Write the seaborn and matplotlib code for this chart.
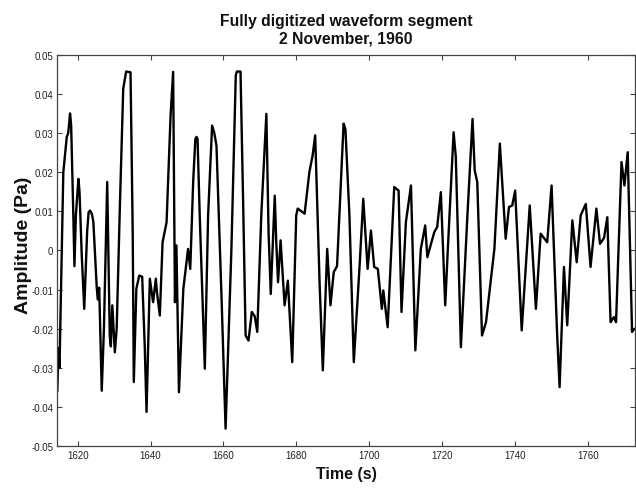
import matplotlib
matplotlib.use("Agg")
import matplotlib.pyplot as plt
import seaborn as sns
import pandas as pd

# --- data ---
time_s = [1614.4, 1614.7, 1615.0, 1616.05, 1617.0, 1617.4, 1617.9, 1618.2, 1618.8, 1619.1,
          1619.5, 1620.2, 1620.5, 1621.1, 1621.8, 1622.6, 1623.0, 1623.4, 1623.9, 1624.3,
          1625.2, 1625.5,
          1625.9, 1626.6, 1627.2, 1628.1, 1628.8, 1629.1, 1629.5, 1630.2, 1630.7, 1631.6,
          1632.5, 1633.3, 1634.5, 1635.1, 1635.4, 1636.1, 1636.9, 1637.7, 1638.4, 1638.9,
          1639.8, 1640.7, 1641.45, 1641.8, 1642.55, 1643.3, 1644.4, 1645.5, 1646.2, 1646.7,
          1647.1, 1647.8, 1649.0, 1650.3, 1650.9, 1651.7, 1652.3, 1652.6, 1652.9, 1653.5,
          1654.9, 1655.8,
          1656.9, 1657.5, 1658.1, 1659.5, 1660.6, 1662.2, 1663.4, 1663.7, 1664.7, 1665.4,
          1666.1,
          1666.9, 1667.8, 1668.6, 1669.3, 1670.4, 1671.8, 1672.4, 1673.0, 1674.1, 1674.5,
          1675.0, 1675.7, 1676.8, 1677.7, 1678.9, 1680.0, 1680.4, 1682.3, 1683.6, 1684.5,
          1685.2, 1686.4, 1687.3, 1688.5, 1689.4, 1690.3, 1691.2, 1693.0, 1693.5, 1694.6,
          1695.8, 1697.4, 1698.4, 1699.6, 1700.5, 1701.4, 1702.4, 1703.5, 1703.9, 1705.1,
          1706.9, 1708.1, 1708.9, 1710.1, 1711.5, 1712.7, 1714.2, 1715.4, 1716.0, 1717.9,
          1718.7, 1719.7, 1720.9, 1721.6, 1723.2, 1723.8, 1724.3, 1725.2, 1727.0, 1728.4,
          1729.0, 1729.7, 1731.0, 1732.1, 1734.4, 1735.9, 1737.1, 1737.5, 1738.4, 1739.3,
          1740.1, 1741.9, 1744.1, 1745.8, 1747.1, 1748.9, 1750.1, 1751.6, 1752.3, 1753.5,
          1754.4, 1755.8, 1757.0, 1758.1, 1759.5, 1760.8, 1762.4, 1763.4, 1764.5, 1765.4,
          1766.3, 1767.2, 1767.8, 1769.3, 1770.1, 1771.0, 1772.2, 1772.8]

amplitude_pa = [-0.036, -0.025, -0.030, 0.020, 0.029, 0.030, 0.035, 0.032, 0.009, -0.004,
                0.009, 0.0183, 0.015, -0.001, -0.0149, 0.005, 0.0098, 0.0102, 0.0093, 0.0073,
                -0.009, -0.0125,
                -0.0095, -0.0358, -0.020, 0.0175, -0.0217, -0.0245, -0.014, -0.026, -0.020, 0.012,
                0.0413, 0.0457, 0.0455, 0.005, -0.0336, -0.0098, -0.0064, -0.0067, -0.0243, -0.0412,
                -0.0072, -0.0132, -0.0072, -0.011, -0.0166, 0.0021, 0.0072, 0.0345, 0.0456, -0.0132,
                0.0013, -0.0362, -0.0098, 0.0004, -0.0047, 0.0175, 0.0285, 0.029, 0.0285, 0.009,
                -0.0302, 0.009,
                0.0319, 0.030, 0.0268, -0.0123, -0.0455, 0.0004, 0.0447, 0.0457, 0.0457, 0.0132,
                -0.0217,
                -0.023, -0.0157, -0.0168, -0.0208, 0.009, 0.0349, 0.0047, -0.0111, 0.014, 0.0025,
                -0.0081, 0.0026, -0.014, -0.0077, -0.0285, 0.009, 0.0107, 0.0094, 0.020, 0.0243,
                0.0294, -0.008, -0.0306, 0.0004, -0.014, -0.0055, -0.004, 0.0324, 0.031, 0.009,
                -0.0285, -0.0038, 0.0132, -0.0047, 0.0051, -0.0042, -0.0047, -0.0149, -0.0102, -0.0196,
                0.0162, 0.0153, -0.0157, 0.0072, 0.0166, -0.0255, 0.0004, 0.0064, -0.0017, 0.0047,
                0.006, 0.0149, -0.014, 0.000, 0.0302, 0.024, 0.007, -0.0247, 0.009, 0.0336,
                0.0204, 0.0175, -0.0217, -0.0183, 0.0004, 0.0273, 0.009, 0.003, 0.0111, 0.0115,
                0.0153, -0.0204, 0.0115, -0.0149, 0.0043, 0.0021, 0.0166, -0.0208, -0.0349, -0.0042,
                -0.0191, 0.0077, -0.003, 0.009, 0.0119, -0.0042, 0.0107, 0.0017, 0.0032, 0.0085,
                -0.0183, -0.017, -0.0183, 0.0226, 0.0166, 0.0251, -0.0208, -0.020]

x_ticks = [1620, 1640, 1660, 1680, 1700, 1720, 1740, 1760]
y_ticks = [0.05, 0.04, 0.03, 0.02, 0.01, 0.0, -0.01, -0.02, -0.03, -0.04, -0.05]
y_tick_labels = ["0.05", "0.04", "0.03", "0.02", "0.01", "0", "-0.01", "-0.02", "-0.03", "-0.04", "-0.05"]

title_text = "Fully digitized waveform segment\n2 November, 1960"
x_label = "Time (s)"
y_label = "Amplitude (Pa)"

df = pd.DataFrame({"t": time_s, "a": amplitude_pa})

sns.set_theme(style="white")
plt.rcParams["font.family"] = ["Liberation Sans", "DejaVu Sans"]

fig = plt.figure(figsize=(6.36, 4.89), dpi=100)
ax = fig.add_axes([0.0901, 0.0853, 0.9083, 0.8008])

sns.lineplot(data=df, x="t", y="a", ax=ax, color="black", linewidth=1.7,
             estimator=None, sort=False, solid_joinstyle="round", solid_capstyle="round")

ax.set_xlim(1614.4, 1773.0)
ax.set_ylim(-0.05, 0.05)
ax.set_xticks(x_ticks)
ax.set_xticklabels([str(v) for v in x_ticks])
ax.set_yticks(y_ticks)
ax.set_yticklabels(y_tick_labels)

for sp in ax.spines.values():
    sp.set_visible(True)
    sp.set_color("#444444")
    sp.set_linewidth(0.9)

ax.tick_params(axis="both", which="major", direction="in", length=3.5, width=0.8,
               color="#444444", labelsize=7, labelcolor="#222222", pad=3,
               top=True, right=True, bottom=True, left=True)

ax.set_title(title_text, fontsize=11.3, fontweight="bold", pad=9, color="#111111")
ax.set_xlabel(x_label, fontsize=11.5, fontweight="bold", labelpad=4, color="#111111")
ax.set_ylabel(y_label, fontsize=14, fontweight="bold", color="#111111")
ax.yaxis.set_label_coords(-0.044, 0.517)

fig.savefig("out.png", dpi=100, facecolor="white")
